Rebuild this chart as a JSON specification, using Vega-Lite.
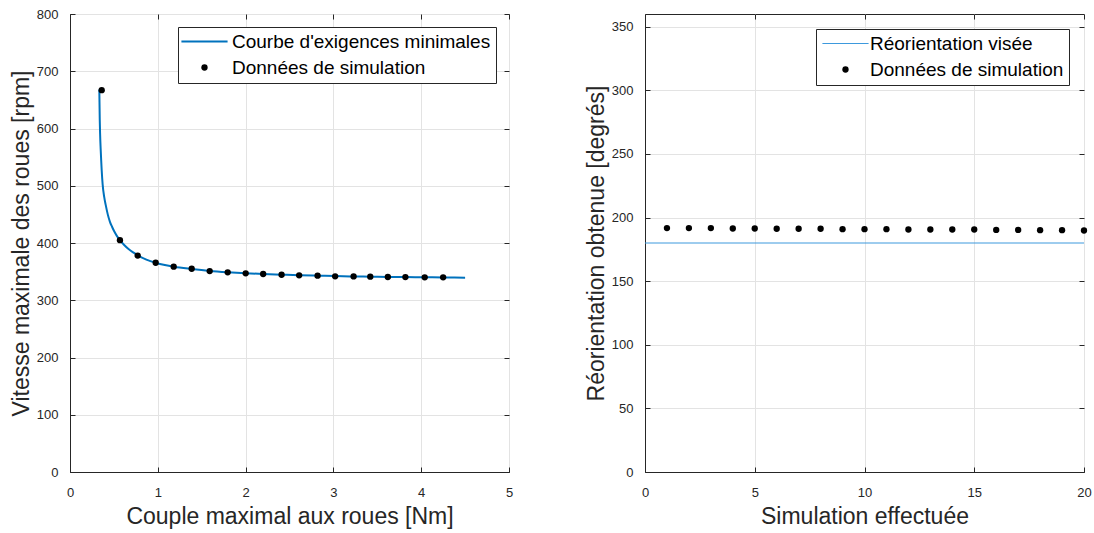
{
  "$schema": "https://vega.github.io/schema/vega-lite/v6.json",
  "padding": {"left": 9, "top": 7, "right": 5, "bottom": 2},
  "autosize": {"type": "pad"},
  "spacing": 136,
  "bounds": "flush",
  "config": {
    "font": "Liberation Sans",
    "view": {"stroke": "#262626", "strokeWidth": 1},
    "axis": {
      "domainColor": "#262626", "tickColor": "#262626", "labelColor": "#262626", "titleColor": "#262626",
      "labelFont": "Liberation Sans", "titleFont": "Liberation Sans",
      "labelFontSize": 13, "titleFontSize": 23, "titleFontWeight": "normal",
      "gridColor": "#e3e3e3", "tickSize": -5, "labelPadding": 19, "titlePadding": 6,
      "labelFlush": false, "labelOverlap": false
    },
    "axisY": {"labelPadding": 17, "titlePadding": 3},
    "legend": {
      "labelFont": "Liberation Sans", "labelFontSize": 19, "labelColor": "black",
      "strokeColor": "#262626", "fillColor": "white", "padding": 5, "rowPadding": 6,
      "symbolSize": 40, "labelLimit": 400, "title": null, "symbolOpacity": 1
    }
  },
  "datasets": {
    "courbe": [
      {"couple": 0.334, "vitesse": 668},
      {"couple": 0.336, "vitesse": 645},
      {"couple": 0.339, "vitesse": 615},
      {"couple": 0.343, "vitesse": 590},
      {"couple": 0.349, "vitesse": 565},
      {"couple": 0.355, "vitesse": 545},
      {"couple": 0.361, "vitesse": 527},
      {"couple": 0.372, "vitesse": 502},
      {"couple": 0.39, "vitesse": 480},
      {"couple": 0.406, "vitesse": 467},
      {"couple": 0.43, "vitesse": 450},
      {"couple": 0.455, "vitesse": 437},
      {"couple": 0.48, "vitesse": 428},
      {"couple": 0.505, "vitesse": 420},
      {"couple": 0.535, "vitesse": 412},
      {"couple": 0.569, "vitesse": 405},
      {"couple": 0.62, "vitesse": 396},
      {"couple": 0.67, "vitesse": 389},
      {"couple": 0.72, "vitesse": 383.5},
      {"couple": 0.771, "vitesse": 378.5},
      {"couple": 0.87, "vitesse": 371},
      {"couple": 0.976, "vitesse": 365.5},
      {"couple": 1.08, "vitesse": 361.5},
      {"couple": 1.181, "vitesse": 358.6},
      {"couple": 1.386, "vitesse": 354.6},
      {"couple": 1.591, "vitesse": 351.3},
      {"couple": 1.796, "vitesse": 349},
      {"couple": 2.0, "vitesse": 347.2},
      {"couple": 2.2, "vitesse": 345.9},
      {"couple": 2.41, "vitesse": 344.7},
      {"couple": 2.61, "vitesse": 343.7},
      {"couple": 2.82, "vitesse": 342.9},
      {"couple": 3.02, "vitesse": 342.2},
      {"couple": 3.23, "vitesse": 341.6},
      {"couple": 3.42, "vitesse": 341.1},
      {"couple": 3.62, "vitesse": 340.7},
      {"couple": 3.82, "vitesse": 340.4},
      {"couple": 4.04, "vitesse": 340.1},
      {"couple": 4.25, "vitesse": 339.8},
      {"couple": 4.5, "vitesse": 339.5}
    ],
    "simA": [
      {"couple": 0.361, "vitesse": 667, "serie": "Données de simulation"},
      {"couple": 0.569, "vitesse": 405, "serie": "Données de simulation"},
      {"couple": 0.771, "vitesse": 378, "serie": "Données de simulation"},
      {"couple": 0.976, "vitesse": 365.5, "serie": "Données de simulation"},
      {"couple": 1.181, "vitesse": 358.6, "serie": "Données de simulation"},
      {"couple": 1.386, "vitesse": 355, "serie": "Données de simulation"},
      {"couple": 1.591, "vitesse": 351, "serie": "Données de simulation"},
      {"couple": 1.796, "vitesse": 348.8, "serie": "Données de simulation"},
      {"couple": 2.001, "vitesse": 347, "serie": "Données de simulation"},
      {"couple": 2.2, "vitesse": 345.8, "serie": "Données de simulation"},
      {"couple": 2.41, "vitesse": 344.6, "serie": "Données de simulation"},
      {"couple": 2.61, "vitesse": 343.5, "serie": "Données de simulation"},
      {"couple": 2.82, "vitesse": 342.9, "serie": "Données de simulation"},
      {"couple": 3.02, "vitesse": 341.8, "serie": "Données de simulation"},
      {"couple": 3.23, "vitesse": 341.6, "serie": "Données de simulation"},
      {"couple": 3.42, "vitesse": 341.2, "serie": "Données de simulation"},
      {"couple": 3.62, "vitesse": 340.6, "serie": "Données de simulation"},
      {"couple": 3.82, "vitesse": 340.5, "serie": "Données de simulation"},
      {"couple": 4.04, "vitesse": 340.1, "serie": "Données de simulation"},
      {"couple": 4.25, "vitesse": 340, "serie": "Données de simulation"}
    ],
    "visee": [
      {"simulation": 0, "angle": 180},
      {"simulation": 20, "angle": 180}
    ],
    "simB": [
      {"simulation": 1, "angle": 191.7, "serie": "Données de simulation"},
      {"simulation": 2, "angle": 191.7, "serie": "Données de simulation"},
      {"simulation": 3, "angle": 191.7, "serie": "Données de simulation"},
      {"simulation": 4, "angle": 191.4, "serie": "Données de simulation"},
      {"simulation": 5, "angle": 191.4, "serie": "Données de simulation"},
      {"simulation": 6, "angle": 191.2, "serie": "Données de simulation"},
      {"simulation": 7, "angle": 191.2, "serie": "Données de simulation"},
      {"simulation": 8, "angle": 191.2, "serie": "Données de simulation"},
      {"simulation": 9, "angle": 190.9, "serie": "Données de simulation"},
      {"simulation": 10, "angle": 190.9, "serie": "Données de simulation"},
      {"simulation": 11, "angle": 190.9, "serie": "Données de simulation"},
      {"simulation": 12, "angle": 190.6, "serie": "Données de simulation"},
      {"simulation": 13, "angle": 190.6, "serie": "Données de simulation"},
      {"simulation": 14, "angle": 190.6, "serie": "Données de simulation"},
      {"simulation": 15, "angle": 190.6, "serie": "Données de simulation"},
      {"simulation": 16, "angle": 190.3, "serie": "Données de simulation"},
      {"simulation": 17, "angle": 190.3, "serie": "Données de simulation"},
      {"simulation": 18, "angle": 190.1, "serie": "Données de simulation"},
      {"simulation": 19, "angle": 190.1, "serie": "Données de simulation"},
      {"simulation": 20, "angle": 189.8, "serie": "Données de simulation"}
    ]
  },
  "resolve": {
    "scale": {"shape": "independent", "fill": "independent", "stroke": "independent", "x": "independent", "y": "independent"},
    "legend": {"shape": "independent", "fill": "independent", "stroke": "independent"}
  },
  "hconcat": [
    {
      "width": 439, "height": 458,
      "resolve": {"axis": {"x": "independent", "y": "independent"}},
      "layer": [
        {
          "data": {"name": "courbe"},
          "mark": {"type": "line", "color": "#0072BD", "strokeWidth": 2, "interpolate": "monotone"},
          "encoding": {
            "x": {"field": "couple", "type": "quantitative", "scale": {"domain": [0, 5], "nice": false},
                  "axis": {"title": "Couple maximal aux roues [Nm]", "values": [0, 1, 2, 3, 4, 5], "format": "d"}},
            "y": {"field": "vitesse", "type": "quantitative", "scale": {"domain": [0, 800], "nice": false},
                  "axis": {"title": "Vitesse maximale des roues [rpm]", "values": [0, 100, 200, 300, 400, 500, 600, 700, 800]}}
          }
        },
        {
          "data": {"name": "simA"},
          "mark": {"type": "point", "filled": true, "size": 40, "opacity": 1, "strokeWidth": 2},
          "encoding": {
            "x": {"field": "couple", "type": "quantitative",
                  "axis": {"orient": "top", "labels": false, "title": null, "grid": false, "domain": false, "values": [0, 1, 2, 3, 4, 5]}},
            "y": {"field": "vitesse", "type": "quantitative",
                  "axis": {"orient": "right", "labels": false, "title": null, "grid": false, "domain": false, "values": [0, 100, 200, 300, 400, 500, 600, 700, 800]}},
            "shape": {
              "field": "serie", "type": "nominal",
              "scale": {"domain": ["Courbe d'exigences minimales", "Données de simulation"], "range": ["M-7.3,0H7.3", "circle"]},
              "legend": {"orient": "top-right", "offset": 13, "symbolOffset": 12, "labelOffset": 18, "symbolStrokeWidth": 2}
            },
            "fill": {
              "field": "serie", "type": "nominal",
              "scale": {"domain": ["Courbe d'exigences minimales", "Données de simulation"], "range": ["transparent", "black"]},
              "legend": {"orient": "top-right", "offset": 13, "symbolOffset": 12, "labelOffset": 18, "symbolStrokeWidth": 2}
            },
            "stroke": {
              "field": "serie", "type": "nominal",
              "scale": {"domain": ["Courbe d'exigences minimales", "Données de simulation"], "range": ["#0072BD", "transparent"]},
              "legend": {"orient": "top-right", "offset": 13, "symbolOffset": 12, "labelOffset": 18, "symbolStrokeWidth": 2}
            }
          }
        }
      ]
    },
    {
      "width": 439, "height": 458,
      "resolve": {"axis": {"x": "independent", "y": "independent"}},
      "layer": [
        {
          "data": {"name": "visee"},
          "mark": {"type": "line", "color": "#3d99dd", "strokeWidth": 1},
          "encoding": {
            "x": {"field": "simulation", "type": "quantitative", "scale": {"domain": [0, 20], "nice": false},
                  "axis": {"title": "Simulation effectuée", "values": [0, 5, 10, 15, 20], "format": "d"}},
            "y": {"field": "angle", "type": "quantitative", "scale": {"domain": [0, 360], "nice": false},
                  "axis": {"title": "Réorientation obtenue [degrés]", "values": [0, 50, 100, 150, 200, 250, 300, 350]}}
          }
        },
        {
          "data": {"name": "simB"},
          "mark": {"type": "point", "filled": true, "size": 40, "opacity": 1, "strokeWidth": 1},
          "encoding": {
            "x": {"field": "simulation", "type": "quantitative",
                  "axis": {"orient": "top", "labels": false, "title": null, "grid": false, "domain": false, "values": [0, 5, 10, 15, 20]}},
            "y": {"field": "angle", "type": "quantitative",
                  "axis": {"orient": "right", "labels": false, "title": null, "grid": false, "domain": false, "values": [0, 50, 100, 150, 200, 250, 300, 350]}},
            "shape": {
              "field": "serie", "type": "nominal",
              "scale": {"domain": ["Réorientation visée", "Données de simulation"], "range": ["M-7.3,0H7.3", "circle"]},
              "legend": {"orient": "top-right", "offset": 15, "symbolOffset": 15, "labelOffset": 15, "symbolStrokeWidth": 1}
            },
            "fill": {
              "field": "serie", "type": "nominal",
              "scale": {"domain": ["Réorientation visée", "Données de simulation"], "range": ["transparent", "black"]},
              "legend": {"orient": "top-right", "offset": 15, "symbolOffset": 15, "labelOffset": 15, "symbolStrokeWidth": 1}
            },
            "stroke": {
              "field": "serie", "type": "nominal",
              "scale": {"domain": ["Réorientation visée", "Données de simulation"], "range": ["#3d99dd", "transparent"]},
              "legend": {"orient": "top-right", "offset": 15, "symbolOffset": 15, "labelOffset": 15, "symbolStrokeWidth": 1}
            }
          }
        }
      ]
    }
  ]
}
